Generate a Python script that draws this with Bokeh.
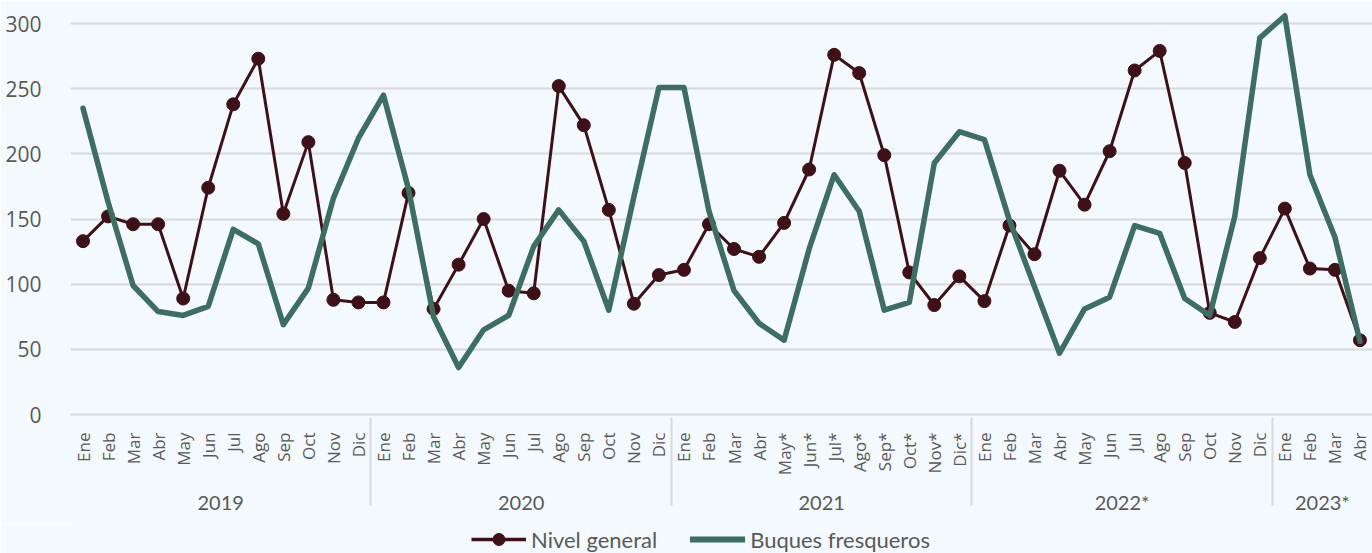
import math
from bokeh.plotting import figure
from bokeh.layouts import column
from bokeh.models import FactorRange, Range1d, FixedTicker, Legend, LegendItem, ColumnDataSource
from bokeh.embed import file_html
from bokeh.resources import INLINE

years = ["2019", "2020", "2021", "2022*", "2023*"]
months_2019 = ["Ene", "Feb", "Mar", "Abr", "May", "Jun", "Jul", "Ago", "Sep", "Oct", "Nov", "Dic"]
months_2020 = ["Ene", "Feb", "Mar", "Abr", "May", "Jun", "Jul", "Ago", "Sep", "Oct", "Nov", "Dic"]
months_2021 = ["Ene", "Feb", "Mar", "Abr", "May*", "Jun*", "Jul*", "Ago*", "Sep*", "Oct*", "Nov*", "Dic*"]
months_2022 = ["Ene", "Feb", "Mar", "Abr", "May", "Jun", "Jul", "Ago", "Sep", "Oct", "Nov", "Dic"]
months_2023 = ["Ene", "Feb", "Mar", "Abr"]

nivel_general = [
    133, 152, 146, 146, 89, 174, 238, 273, 154, 209, 88, 86,
    86, 170, 81, 115, 150, 95, 93, 252, 222, 157, 85, 107,
    111, 146, 127, 121, 147, 188, 276, 262, 199, 109, 84, 106,
    87, 145, 123, 187, 161, 202, 264, 279, 193, 78, 71, 120,
    158, 112, 111, 57,
]
buques_fresqueros = [
    235, 163, 99, 79, 76, 83, 142, 131, 69, 97, 166, 212,
    245, 173, 75, 36, 65, 76, 129, 157, 133, 80, 167, 251,
    251, 156, 95, 70, 57, 127, 184, 156, 80, 86, 193, 217,
    211, 149, 98, 47, 81, 90, 145, 139, 89, 76, 152, 289,
    306, 184, 136, 56,
]
y_ticks = [0, 50, 100, 150, 200, 250, 300]

month_lists = [months_2019, months_2020, months_2021, months_2022, months_2023]
factors = [(y, m) for y, ms in zip(years, month_lists) for m in ms]

MAROON = "#3E1118"
GREEN = "#3E6E61"
BG = "#F3F9FC"
TXT = "#595959"
GRID = "#D9D9D9"

src = ColumnDataSource(dict(x=factors, nivel=nivel_general, buques=buques_fresqueros))
xr = FactorRange(*factors, factor_padding=0, group_padding=0, subgroup_padding=0, range_padding=0)

p = figure(
    x_range=xr,
    y_range=Range1d(0, 310),
    width=1372, height=523,
    output_backend="svg", toolbar_location=None,
    min_border_left=70, min_border_right=0, min_border_top=10, min_border_bottom=109,
)
p.background_fill_color = BG
p.border_fill_color = BG
p.outline_line_color = None

p.line("x", "nivel", source=src, line_color=MAROON, line_width=3, line_join="round")
p.scatter("x", "nivel", source=src, size=13, fill_color=MAROON, line_color=MAROON)
p.line("x", "buques", source=src, line_color=GREEN, line_width=5.5, line_join="round", line_cap="round")

p.xgrid.grid_line_color = None
p.ygrid.grid_line_color = GRID
p.ygrid.grid_line_width = 2
p.yaxis.ticker = FixedTicker(ticks=y_ticks)

p.yaxis.axis_line_color = None
p.yaxis.major_tick_line_color = None
p.yaxis.minor_tick_line_color = None
p.yaxis.major_label_text_font = "Open Sans"
p.yaxis.major_label_text_font_size = "21px"
p.yaxis.major_label_text_color = TXT
p.yaxis.major_label_standoff = 23

xa = p.xaxis[0]
xa.axis_line_color = GRID
xa.axis_line_width = 2
xa.major_tick_line_color = None
xa.minor_tick_line_color = None
xa.major_label_orientation = math.pi / 2
xa.major_label_text_font = "Open Sans"
xa.major_label_text_font_size = "17px"
xa.major_label_text_color = TXT
xa.major_label_standoff = 12
xa.group_text_font = "Lato"
xa.group_text_font_style = "normal"
xa.group_text_font_size = "20px"
xa.group_text_color = TXT
xa.separator_line_color = GRID
xa.separator_line_width = 2

# Legend strip: a second figure whose view excludes the data, showing only the legend
q = figure(
    x_range=xr, y_range=Range1d(10000, 10001),
    width=1372, height=30,
    output_backend="svg", toolbar_location=None,
    min_border_left=0, min_border_right=0, min_border_top=0, min_border_bottom=0,
)
q.background_fill_color = BG
q.border_fill_color = BG
q.outline_line_color = None
q.axis.visible = False
q.grid.visible = False
l1 = q.line("x", "nivel", source=src, line_color=MAROON, line_width=3.5)
l2 = q.scatter("x", "nivel", source=src, size=13, fill_color=MAROON, line_color=MAROON)
l3 = q.line("x", "buques", source=src, line_color=GREEN, line_width=6, line_cap="round")

legend = Legend(
    items=[
        LegendItem(label="Nivel general", renderers=[l1, l2]),
        LegendItem(label="Buques fresqueros", renderers=[l3]),
    ],
    orientation="horizontal",
    location=(401, -1),
    glyph_width=55, glyph_height=30,
    label_text_font="Lato",
    label_text_font_size="22px",
    label_text_color=TXT,
    label_standoff=5,
    spacing=33,
    padding=0, margin=0,
    background_fill_alpha=0, border_line_color=None,
)
q.add_layout(legend, "center")

layout = column(p, q, spacing=0)
open("out.html", "w").write(file_html(layout, INLINE))
